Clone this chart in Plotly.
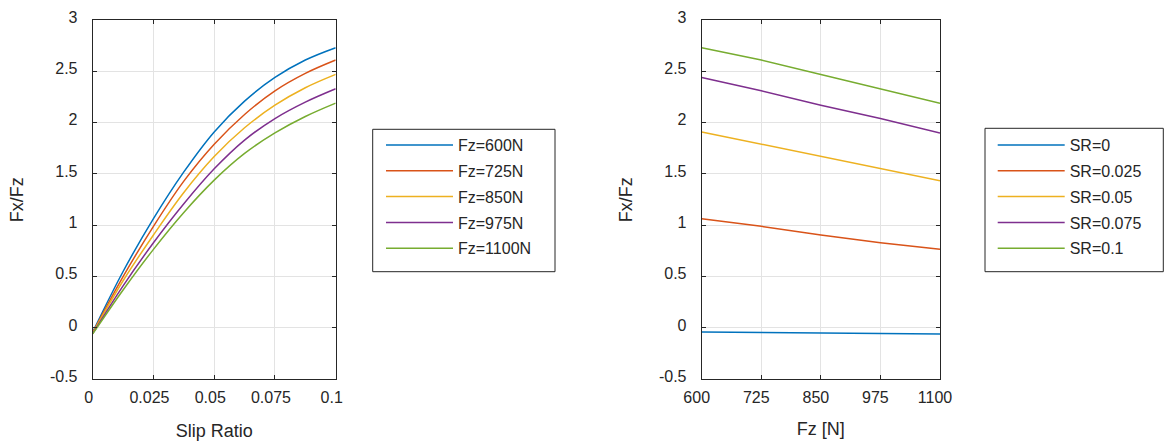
import plotly.graph_objects as go

# ---- data ----
slip_ratio = [0, 0.0125, 0.025, 0.0375, 0.05, 0.0625, 0.075, 0.0875, 0.1]
fz_values = [600, 725, 850, 975, 1100]
fz_labels = ["Fz=600N", "Fz=725N", "Fz=850N", "Fz=975N", "Fz=1100N"]

mu_fz600 = [-0.040, 0.55, 1.065, 1.52, 1.91, 2.21, 2.44, 2.61, 2.73]
mu_fz725 = [-0.045, 0.50, 0.990, 1.43, 1.79, 2.08, 2.31, 2.48, 2.61]
mu_fz850 = [-0.050, 0.46, 0.906, 1.32, 1.67, 1.95, 2.17, 2.34, 2.47]
mu_fz975 = [-0.055, 0.41, 0.830, 1.21, 1.55, 1.83, 2.04, 2.20, 2.33]
mu_fz1100 = [-0.058, 0.37, 0.766, 1.125, 1.44, 1.70, 1.90, 2.06, 2.19]

sr_levels = [0, 0.025, 0.05, 0.075, 0.1]
sr_labels = ["SR=0", "SR=0.025", "SR=0.05", "SR=0.075", "SR=0.1"]
mu_sr0 = [-0.040, -0.045, -0.050, -0.055, -0.058]
mu_sr025 = [1.065, 0.990, 0.906, 0.830, 0.766]
mu_sr05 = [1.91, 1.79, 1.67, 1.55, 1.435]
mu_sr075 = [2.44, 2.31, 2.17, 2.04, 1.90]
mu_sr1 = [2.73, 2.61, 2.47, 2.33, 2.19]

colors = ["#0072BD", "#D95319", "#EDB120", "#7E2F8E", "#77AC30"]
yticks = [-0.5, 0, 0.5, 1, 1.5, 2, 2.5, 3]
ytick_text = ["-0.5", "0", "0.5", "1", "1.5", "2", "2.5", "3"]
xticks_left = [0, 0.025, 0.05, 0.075, 0.1]
xtick_text_left = ["0", "0.025", "0.05", "0.075", "0.1"]
xticks_right = [600, 725, 850, 975, 1100]

TXT = "#262626"
FONT = "Liberation Sans, Arial, sans-serif"

fig = go.Figure()
left_series = [mu_fz600, mu_fz725, mu_fz850, mu_fz975, mu_fz1100]
for i, (lab, ys) in enumerate(zip(fz_labels, left_series)):
    fig.add_trace(go.Scatter(x=slip_ratio, y=ys, mode="lines", name=lab,
                             line=dict(color=colors[i], width=1.5, shape="spline"),
                             xaxis="x", yaxis="y", legend="legend",
                             legendgroup="a%d" % i))
right_series = [mu_sr0, mu_sr025, mu_sr05, mu_sr075, mu_sr1]
for i, (lab, ys) in enumerate(zip(sr_labels, right_series)):
    fig.add_trace(go.Scatter(x=fz_values, y=ys, mode="lines", name=lab,
                             line=dict(color=colors[i], width=1.5),
                             xaxis="x2", yaxis="y2", legend="legend2",
                             legendgroup="b%d" % i))

W, H = 1165, 441
ax_common = dict(showline=True, linecolor=TXT, linewidth=1, mirror="allticks",
                 ticks="inside", ticklen=4, tickcolor=TXT, showgrid=True,
                 gridcolor="#E3E3E3", gridwidth=1, zeroline=False, automargin=False,
                 tickfont=dict(family=FONT, size=16, color=TXT))
ydom = [1 - 379.3 / H, 1 - 20 / H]
tfont = dict(size=18, family=FONT, color=TXT)

leg_common = dict(xanchor="left", yanchor="top", borderwidth=0, bgcolor="rgba(0,0,0,0)",
                  font=dict(family=FONT, size=16, color=TXT), itemwidth=67,
                  traceorder="grouped", tracegroupgap=2)

fig.update_layout(
    width=W, height=H, margin=dict(l=0, r=0, t=0, b=0, autoexpand=False),
    paper_bgcolor="white", plot_bgcolor="white",
    font=dict(family=FONT, color=TXT),
    xaxis=dict(domain=[92.7 / W, 335.7 / W], range=[0, 0.1], tickvals=xticks_left,
               ticktext=xtick_text_left, anchor="y", ticklabelstandoff=3, ticklabelshift=-4,
               title=dict(text="Slip Ratio", font=tfont, standoff=26), **ax_common),
    yaxis=dict(domain=ydom, range=[-0.5, 3], tickvals=yticks, ticktext=ytick_text,
               anchor="x", ticklabelstandoff=11, ticklabelshift=-3,
               title=dict(text="Fx/Fz", font=tfont, standoff=21), **ax_common),
    xaxis2=dict(domain=[701.7 / W, 940 / W], range=[600, 1100], tickvals=xticks_right,
                anchor="y2", ticklabelstandoff=3, ticklabelshift=-5,
                title=dict(text="Fz [N]", font=tfont, standoff=17), **ax_common),
    yaxis2=dict(domain=ydom, range=[-0.5, 3], tickvals=yticks, ticktext=ytick_text,
                anchor="x2", ticklabelstandoff=11, ticklabelshift=-3,
                title=dict(text="Fx/Fz", font=tfont, standoff=21), **ax_common),
    legend=dict(x=381 / W, y=1 - 128.1 / H, **leg_common),
    legend2=dict(x=992.7 / W, y=1 - 128.1 / H, **leg_common),
    shapes=[
        dict(type="rect", xref="paper", yref="paper", x0=372.7 / W, x1=555 / W,
             y0=1 - 271.7 / H, y1=1 - 129.3 / H, line=dict(color=TXT, width=1)),
        dict(type="rect", xref="paper", yref="paper", x0=985 / W, x1=1163.3 / W,
             y0=1 - 271.7 / H, y1=1 - 128.3 / H, line=dict(color=TXT, width=1)),
    ],
)

fig.write_html("out.html",
               post_script="document.body.style.margin='0';document.body.style.overflow='hidden';")
